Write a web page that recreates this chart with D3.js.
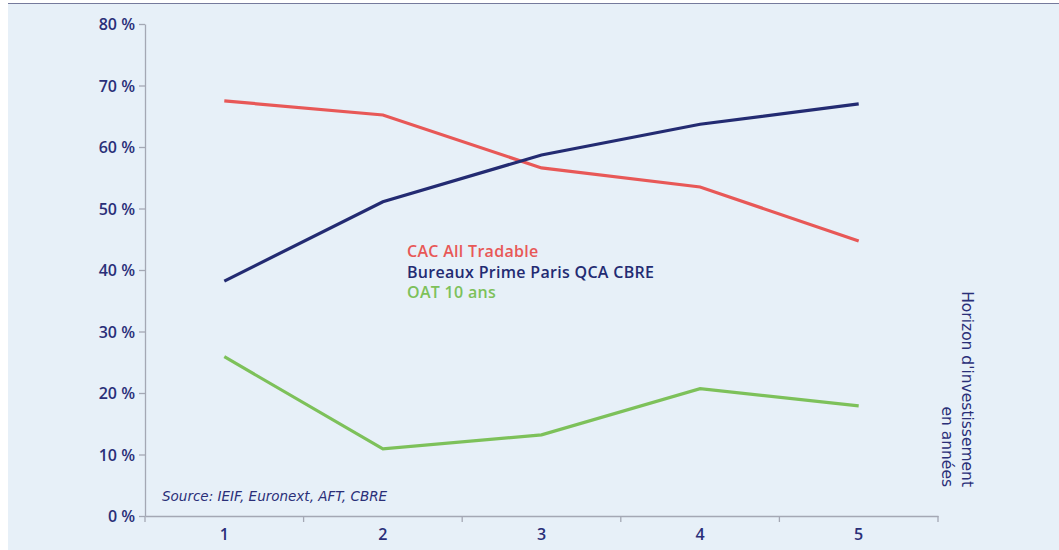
<!DOCTYPE html>
<html>
<head>
<meta charset="utf-8">
<script src="https://cdn.jsdelivr.net/npm/d3@7"></script>
<style>
  body { margin: 0; background: #fff; }
  svg { display: block; font-family: 'Open Sans', 'Noto Sans', sans-serif; }
</style>
</head>
<body>
<div id="chart"></div>
<script>
const years = [1, 2, 3, 4, 5];
const cacAllTradable = [67.5, 65.2, 56.6, 53.5, 44.7];
const bureauxPrime = [38.2, 51.1, 58.7, 63.7, 67.0];
const oat10 = [25.9, 10.9, 13.2, 20.7, 17.9];
const yTicks = [0, 10, 20, 30, 40, 50, 60, 70, 80];

const series = [
  { name: 'CAC All Tradable', values: cacAllTradable, color: '#e85857' },
  { name: 'Bureaux Prime Paris QCA CBRE', values: bureauxPrime, color: '#232b72' },
  { name: 'OAT 10 ans', values: oat10, color: '#7dc15a' }
];

const textColor = '#2a2f78';
const width = 1059;
const height = 550;

const svg = d3.select('#chart')
  .append('svg')
  .attr('width', width)
  .attr('height', height);

// panel background
svg.append('rect')
  .attr('x', 8).attr('y', 3)
  .attr('width', width - 8).attr('height', height - 3)
  .attr('fill', '#e7f0f8');

svg.append('line')
  .attr('x1', 8).attr('x2', width)
  .attr('y1', 3.5).attr('y2', 3.5)
  .attr('stroke', '#757a9c')
  .attr('stroke-width', 1.2);

const x = d3.scaleBand()
  .domain(years)
  .range([145, 938]);

const y = d3.scaleLinear()
  .domain([0, 80])
  .range([516, 24]);

// y axis
const yAxis = svg.append('g')
  .attr('transform', 'translate(145,0)')
  .call(d3.axisLeft(y).tickValues(yTicks).tickSize(6).tickSizeOuter(0).tickFormat(d => d + ' %'));

// x axis with ticks on band edges
const xAxis = svg.append('g')
  .attr('transform', 'translate(0,516)')
  .call(d3.axisBottom(x).tickSize(0).tickSizeOuter(0));

xAxis.selectAll('.edge')
  .data(years.map(d => x(d)).concat([x.range()[1]]))
  .enter()
  .append('line')
  .attr('class', 'edge')
  .attr('x1', d => d).attr('x2', d => d)
  .attr('y1', 0).attr('y2', 6);

[yAxis, xAxis].forEach(ax => {
  ax.select('.domain').attr('stroke', '#a4a8b4').attr('stroke-width', 1.3);
  ax.selectAll('line').attr('stroke', '#a4a8b4').attr('stroke-width', 1.3);
  ax.selectAll('text')
    .attr('fill', textColor)
    .style('font-family', "'Open Sans', sans-serif")
    .style('font-size', '16px')
    .style('font-weight', 600);
});
yAxis.selectAll('text').attr('x', -10).attr('dy', '0.35em');
xAxis.selectAll('.tick text').attr('y', 13).attr('dy', '0.71em');

// lines
const line = d3.line()
  .x((d, i) => x(years[i]) + x.bandwidth() / 2)
  .y(d => y(d));

svg.selectAll('.series')
  .data(series)
  .enter()
  .append('path')
  .attr('class', 'series')
  .attr('d', d => line(d.values))
  .attr('fill', 'none')
  .attr('stroke', d => d.color)
  .attr('stroke-width', 3.2);

// legend
svg.selectAll('.legend')
  .data(series)
  .enter()
  .append('text')
  .attr('class', 'legend')
  .attr('x', 407)
  .attr('y', (d, i) => 257 + i * 20.5)
  .attr('fill', d => d.color)
  .style('font-size', '16px')
  .style('font-weight', 600)
  .style('letter-spacing', '0.3px')
  .text(d => d.name);

// source
svg.append('text')
  .attr('x', 162)
  .attr('y', 501)
  .attr('fill', textColor)
  .style('font-family', "'DejaVu Sans', sans-serif")
  .style('font-size', '13.5px')
  .style('font-style', 'italic')
  .text('Source: IEIF, Euronext, AFT, CBRE');

// axis title, rotated
const title = svg.append('text')
  .attr('transform', 'translate(962,487) rotate(90)')
  .attr('text-anchor', 'end')
  .attr('fill', textColor)
  .style('font-family', "'DejaVu Sans', sans-serif")
  .style('font-size', '15.5px');

title.append('tspan').attr('x', 0).attr('y', 0).text("Horizon d'investissement");
title.append('tspan').attr('x', 0).attr('y', 20).text('en années');
</script>
</body>
</html>
